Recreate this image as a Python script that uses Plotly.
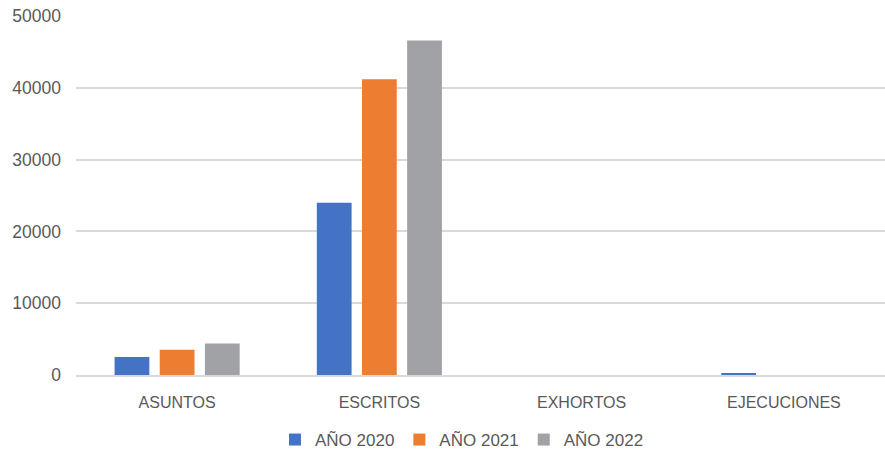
import plotly.graph_objects as go

categories = ["ASUNTOS", "ESCRITOS", "EXHORTOS", "EJECUCIONES"]
series_names = ["AÑO 2020", "AÑO 2021", "AÑO 2022"]
values_2020 = [2500, 24000, 0, 220]
values_2021 = [3500, 41200, 0, 0]
values_2022 = [4400, 46600, 0, 0]
colors = ["#4472C4", "#ED7D31", "#A0A2A5"]
y_ticks = [0, 10000, 20000, 30000, 40000, 50000]

fig = go.Figure()
for name, vals, col in zip(series_names, [values_2020, values_2021, values_2022], colors):
    fig.add_trace(go.Bar(name=name, x=categories, y=vals, marker_color=col,
                         marker_line_width=0))

font_family = "Liberation Sans, Arial, sans-serif"
fig.update_layout(
    width=885, height=455,
    margin=dict(l=76, r=0, t=16, b=80),
    paper_bgcolor="white", plot_bgcolor="white",
    barmode="group", bargap=0.33, bargroupgap=0.23,
    font=dict(family=font_family, color="#595959", size=16),
    legend=dict(orientation="h", xref="container", yref="container",
                x=0.522, xanchor="center", y=0.033, yanchor="middle",
                font=dict(size=17, color="#595959"), itemwidth=30,
                traceorder="normal"),
    xaxis=dict(showline=True, linecolor="#D9D9D9", linewidth=1.5,
               ticks="", ticklabelstandoff=12,
               tickfont=dict(size=16, color="#595959")),
    yaxis=dict(range=[0, 50000], tickvals=y_ticks, ticktext=[str(v) for v in y_ticks],
               showgrid=True, gridcolor="#D9D9D9", gridwidth=1.5, zeroline=False,
               ticks="", ticklabelstandoff=14,
               tickfont=dict(size=17.5, color="#595959")),
)

fig.write_html("out.html")
